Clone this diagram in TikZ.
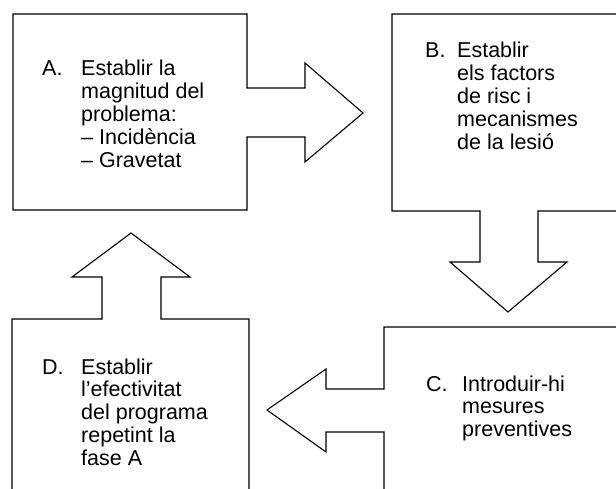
\documentclass[tikz,border=0pt]{standalone}
\usepackage{fontspec}
\setmainfont{Liberation Sans}
\begin{document}
\begin{tikzpicture}[x=1pt,y=-1pt,
  outline/.style={draw=black,line width=1.1pt,line join=miter},
  lbl/.style={anchor=base west,inner sep=0pt,font=\fontsize{21.5}{22.8}\selectfont}]
\useasboundingbox (0,0) rectangle (616,489);
% Box A with right arrow
\draw[outline] (13,14) -- (247,14) -- (247,88) -- (305,88) -- (305,63) -- (363,113)
  -- (305,162) -- (305,137) -- (247,137) -- (247,210) -- (13,210) -- cycle;
% Box B with down arrow
\draw[outline] (622,14) -- (392,14) -- (392,211) -- (480,211) -- (480,262) -- (450,262)
  -- (508,312) -- (567,262) -- (538,262) -- (538,211) -- (622,211);
% Box C with left arrow
\draw[outline] (622,327) -- (384,327) -- (384,389) -- (326,389) -- (326,369) -- (267,410)
  -- (326,452) -- (326,432) -- (384,432) -- (384,495);
% Box D with up arrow
\draw[outline] (12,495) -- (12,319) -- (102,319) -- (102,277) -- (72,277) -- (131,233)
  -- (190,277) -- (161,277) -- (161,319) -- (249,319) -- (249,495);
% Texts
\node[lbl] (la) at (42,76) {A.};
\node[lbl] (ta) at (81,76) {\begin{tabular}[t]{@{}l@{}}Establir la\\magnitud del\\problema:\\– Incidència\\– Gravetat\end{tabular}};
\node[lbl] (lb) at (425,58) {B.};
\node[lbl] (tb) at (457,58) {\begin{tabular}[t]{@{}l@{}}Establir\\els factors\\de risc i\\mecanismes\\de la lesió\end{tabular}};
\node[lbl] (lc) at (426,391) {C.};
\node[lbl] (tc) at (462,391) {\begin{tabular}[t]{@{}l@{}}Introduir-hi\\mesures\\preventives\end{tabular}};
\node[lbl] (ld) at (42,374) {D.};
\node[lbl] (td) at (81,374) {\begin{tabular}[t]{@{}l@{}}Establir\\l’efectivitat\\del programa\\repetint la\\fase A\end{tabular}};
\end{tikzpicture}
\end{document}
